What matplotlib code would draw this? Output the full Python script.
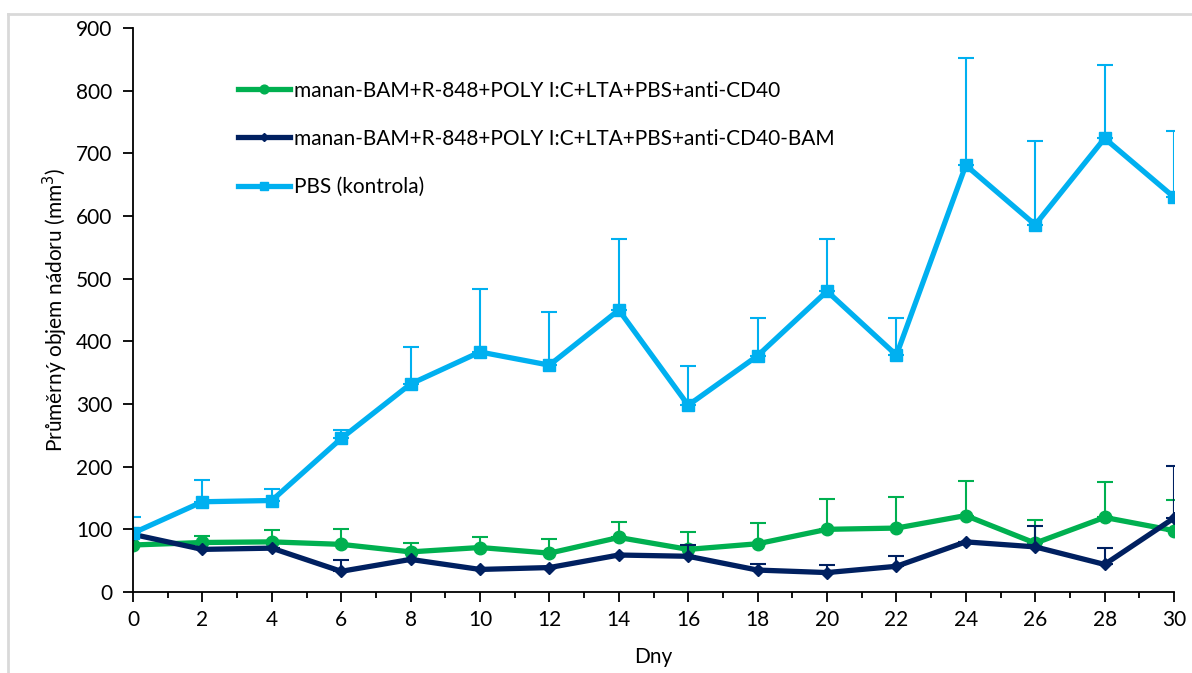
import numpy as np
import matplotlib.pyplot as plt
from matplotlib.lines import Line2D
from matplotlib.ticker import MultipleLocator

plt.rcParams['font.family'] = ['Lato', 'DejaVu Sans']

dny = [0, 2, 4, 6, 8, 10, 12, 14, 16, 18, 20, 22, 24, 26, 28, 30]

# manan-BAM+R-848+POLY I:C+LTA+PBS+anti-CD40
zelena = [75, 79, 80, 76, 64, 71, 62, 87, 68, 77, 100, 102, 122, 78, 119, 98]
zelena_err = [0, 10, 19, 25, 14, 17, 23, 25, 27, 33, 48, 50, 55, 37, 57, 49]

# manan-BAM+R-848+POLY I:C+LTA+PBS+anti-CD40-BAM
modra = [92, 68, 70, 33, 52, 36, 39, 59, 57, 35, 31, 41, 80, 72, 44, 118]
modra_err = [0, 0, 0, 18, 0, 0, 0, 0, 18, 9, 12, 16, 0, 33, 26, 83]

# PBS (kontrola)
pbs = [94, 144, 146, 245, 332, 383, 362, 450, 298, 377, 480, 378, 681, 586, 724, 630]
pbs_err = [25, 35, 18, 14, 59, 101, 85, 113, 63, 60, 83, 59, 171, 134, 117, 106]

labels = ['manan-BAM+R-848+POLY I:C+LTA+PBS+anti-CD40',
          'manan-BAM+R-848+POLY I:C+LTA+PBS+anti-CD40-BAM',
          'PBS (kontrola)']

fig = plt.figure(figsize=(11.92, 6.73), dpi=100)
ax = fig.add_axes([133/1192, 1-592/673, (1174-133)/1192, (592-28)/673])

# sede oramovani grafu
fig.add_artist(Line2D([8/1192, 8/1192], [0, 1-14/673], transform=fig.transFigure, color='#d9d9d9', lw=2))
fig.add_artist(Line2D([8/1192, 1], [1-14/673, 1-14/673], transform=fig.transFigure, color='#d9d9d9', lw=2))

serie = [(zelena, zelena_err, '#00B050', 'o', 9),
         (modra, modra_err, '#002060', 'D', 6),
         (pbs, pbs_err, '#00B0F0', 's', 9)]

handles = []
for (y, e, c, m, ms), lab in zip(serie, labels):
    ax.errorbar(dny, y, yerr=[np.zeros(len(e)), e], fmt='none', ecolor=c,
                elinewidth=1.5, capsize=6, capthick=1.5)
    h, = ax.plot(dny, y, color=c, lw=3.8, marker=m, markersize=ms, label=lab)
    handles.append(h)

ax.set_xlim(0, 30)
ax.set_ylim(0, 900)
ax.xaxis.set_major_locator(MultipleLocator(2))
ax.xaxis.set_minor_locator(MultipleLocator(1))
ax.yaxis.set_major_locator(MultipleLocator(100))
ax.tick_params(axis='both', which='major', length=7, width=1.3, labelsize=15, direction='out')
ax.tick_params(axis='x', which='minor', length=4, width=1.3)
ax.tick_params(axis='x', pad=6)
ax.tick_params(axis='y', pad=8)
for s in ['top', 'right']:
    ax.spines[s].set_visible(False)
for s in ['left', 'bottom']:
    ax.spines[s].set_linewidth(1.3)

ax.set_xlabel('Dny', fontsize=15, labelpad=12)
ax.set_ylabel('Průměrný objem nádoru (mm$^3$)', fontsize=15, labelpad=4)

leg = ax.legend(handles=handles, loc='upper left', bbox_to_anchor=(0.083, 0.94),
                frameon=False, fontsize=15, labelspacing=1.35,
                handlelength=2.5, handletextpad=0.2, markerscale=0.7)

fig.savefig('out.png', dpi=100)
